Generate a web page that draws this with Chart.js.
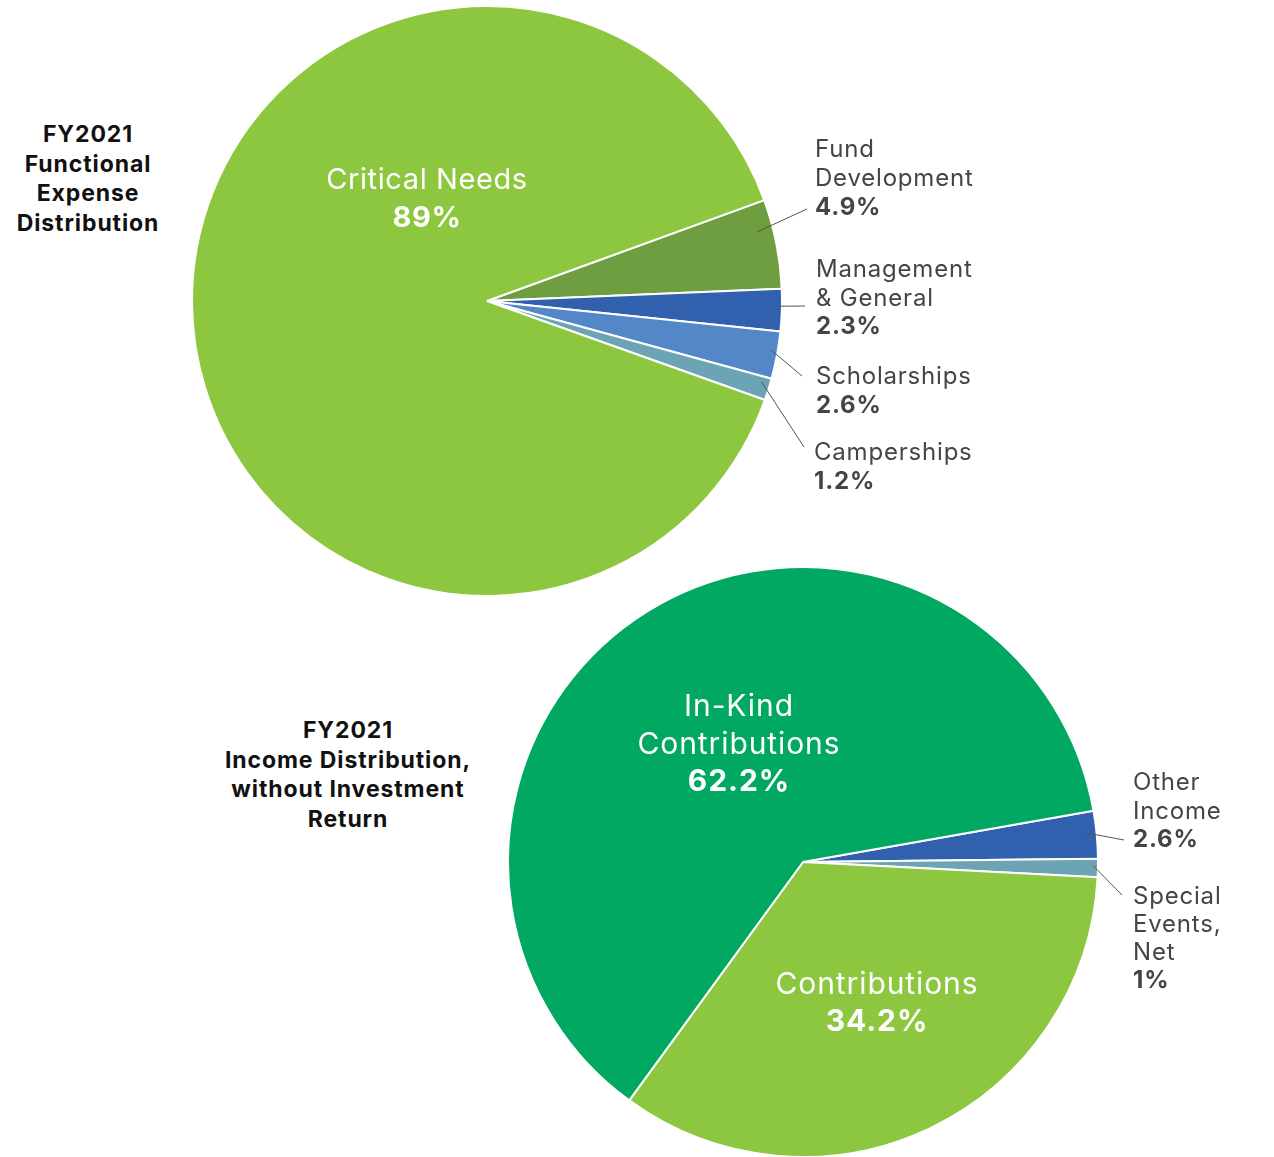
<!DOCTYPE html>
<html>
<head>
<meta charset="utf-8">
<script src="https://cdn.jsdelivr.net/npm/chart.js@4.4.1/dist/chart.umd.min.js"></script>
<style>
  html, body { margin: 0; padding: 0; background: #fff; width: 1274px; height: 1157px; overflow: hidden; }
  canvas { position: absolute; left: 0; }
  #expense { top: 0; }
  #income { top: 560px; }
  .side-title {
    position: absolute;
    font-family: Inter, sans-serif;
    font-weight: 700;
    font-size: 23px;
    letter-spacing: 0.9px;
    line-height: 29.5px;
    text-align: center;
    color: #111;
  }
</style>
</head>
<body>
<div class="side-title" style="left:-2px; top:120px; width:180px;">FY2021<br>Functional<br>Expense<br>Distribution</div>
<div class="side-title" style="left:198px; top:716px; width:300px;">FY2021<br>Income Distribution,<br>without Investment<br>Return</div>
<canvas id="expense" width="1274" height="600"></canvas>
<canvas id="income" width="1274" height="600"></canvas>
<script>
// FY2021 functional expense distribution (%)
const expenseCategories = ["Fund Development", "Management & General", "Scholarships", "Camperships", "Critical Needs"];
const expenseValues = [4.9, 2.3, 2.6, 1.2, 89];
const expenseLines = [["Fund", "Development"], ["Management", "& General"], ["Scholarships"], ["Camperships"], ["Critical Needs"]];

// FY2021 income distribution without investment return (%)
const incomeCategories = ["Other Income", "Special Events, Net", "Contributions", "In-Kind Contributions"];
const incomeValues = [2.6, 1, 34.2, 62.2];
const incomeLines = [["Other", "Income"], ["Special", "Events,", "Net"], ["Contributions"], ["In-Kind", "Contributions"]];

const FONT = "Inter, sans-serif";

// draws callout / inside labels from the arc geometry
const pieLabels = {
  id: "pieLabels",
  afterDatasetsDraw(chart, args, opts) {
    const ctx = chart.ctx;
    const arcs = chart.getDatasetMeta(0).data;
    const values = chart.data.datasets[0].data;
    ctx.save();
    ctx.textBaseline = "middle";
    opts.items.forEach((it, i) => {
      const arc = arcs[i];
      const cx = arc.x, cy = arc.y, R = arc.outerRadius;
      const lines = opts.lines[i].concat([values[i] + "%"]);
      ctx.letterSpacing = it.ls + "px";
      if (it.inside) {
        ctx.fillStyle = "#fff";
        ctx.textAlign = "center";
      } else {
        const a = arc.startAngle + it.t * (arc.endAngle - arc.startAngle);
        ctx.strokeStyle = "#555";
        ctx.lineWidth = 1;
        ctx.beginPath();
        ctx.moveTo(cx + Math.cos(a) * R * it.r, cy + Math.sin(a) * R * it.r);
        ctx.lineTo(cx + it.ex, cy + it.ey);
        ctx.stroke();
        ctx.fillStyle = "#454545";
        ctx.textAlign = "left";
      }
      lines.forEach((t, k) => {
        const last = k === lines.length - 1;
        ctx.font = (last ? "700 " : "400 ") + it.size + "px " + FONT;
        ctx.fillText(t, cx + it.dx, cy + it.dy + k * it.lh);
      });
    });
    ctx.restore();
  }
};

function makePie(id, labels, values, colors, rotation, padding, lines, items) {
  return new Chart(document.getElementById(id), {
    type: "pie",
    data: {
      labels: labels,
      datasets: [{
        data: values,
        backgroundColor: colors,
        borderColor: "#fff",
        borderWidth: 2
      }]
    },
    options: {
      responsive: false,
      animation: false,
      rotation: rotation,
      layout: { padding: padding },
      plugins: {
        legend: { display: false },
        tooltip: { enabled: false },
        pieLabels: { lines: lines, items: items }
      }
    },
    plugins: [pieLabels]
  });
}

document.addEventListener("DOMContentLoaded", () => {
  makePie("expense", expenseCategories, expenseValues,
    ["#6f9e40", "#3060ae", "#5487c8", "#6ca4b5", "#8dc63f"],
    70,
    { left: 191, right: 491, top: 5, bottom: 3 },
    expenseLines,
    [
      { dx: 328, dy: -151, lh: 29, size: 24, ls: 0.8, ex: 320, ey: -92, t: 0.32, r: 0.946 },
      { dx: 329, dy: -31, lh: 28.5, size: 24, ls: 0.8, ex: 318, ey: 5, t: 0.41, r: 0.98 },
      { dx: 329, dy: 76, lh: 28.5, size: 24, ls: 0.8, ex: 315, ey: 75, t: 0.41, r: 0.977 },
      { dx: 327, dy: 152, lh: 28.5, size: 24, ls: 0.8, ex: 317, ey: 146, t: 0.26, r: 0.97 },
      { inside: true, dx: -60, dy: -121, lh: 38, size: 29, ls: 0.6 }
    ]);

  makePie("income", incomeCategories, incomeValues,
    ["#3060ae", "#6ca4b5", "#8dc63f", "#00a862"],
    80,
    { left: 507, right: 175, top: 6, bottom: 2 },
    incomeLines,
    [
      { dx: 330, dy: -79, lh: 28.5, size: 24, ls: 0.8, ex: 321, ey: -22, t: 0.45, r: 0.97 },
      { dx: 330, dy: 35, lh: 28, size: 24, ls: 0.8, ex: 319, ey: 33, t: 0.4, r: 0.985 },
      { inside: true, dx: 74, dy: 123, lh: 37, size: 30, ls: 0.9 },
      { inside: true, dx: -64, dy: -155, lh: 37.5, size: 30, ls: 0.9 }
    ]);
});
</script>
</body>
</html>
